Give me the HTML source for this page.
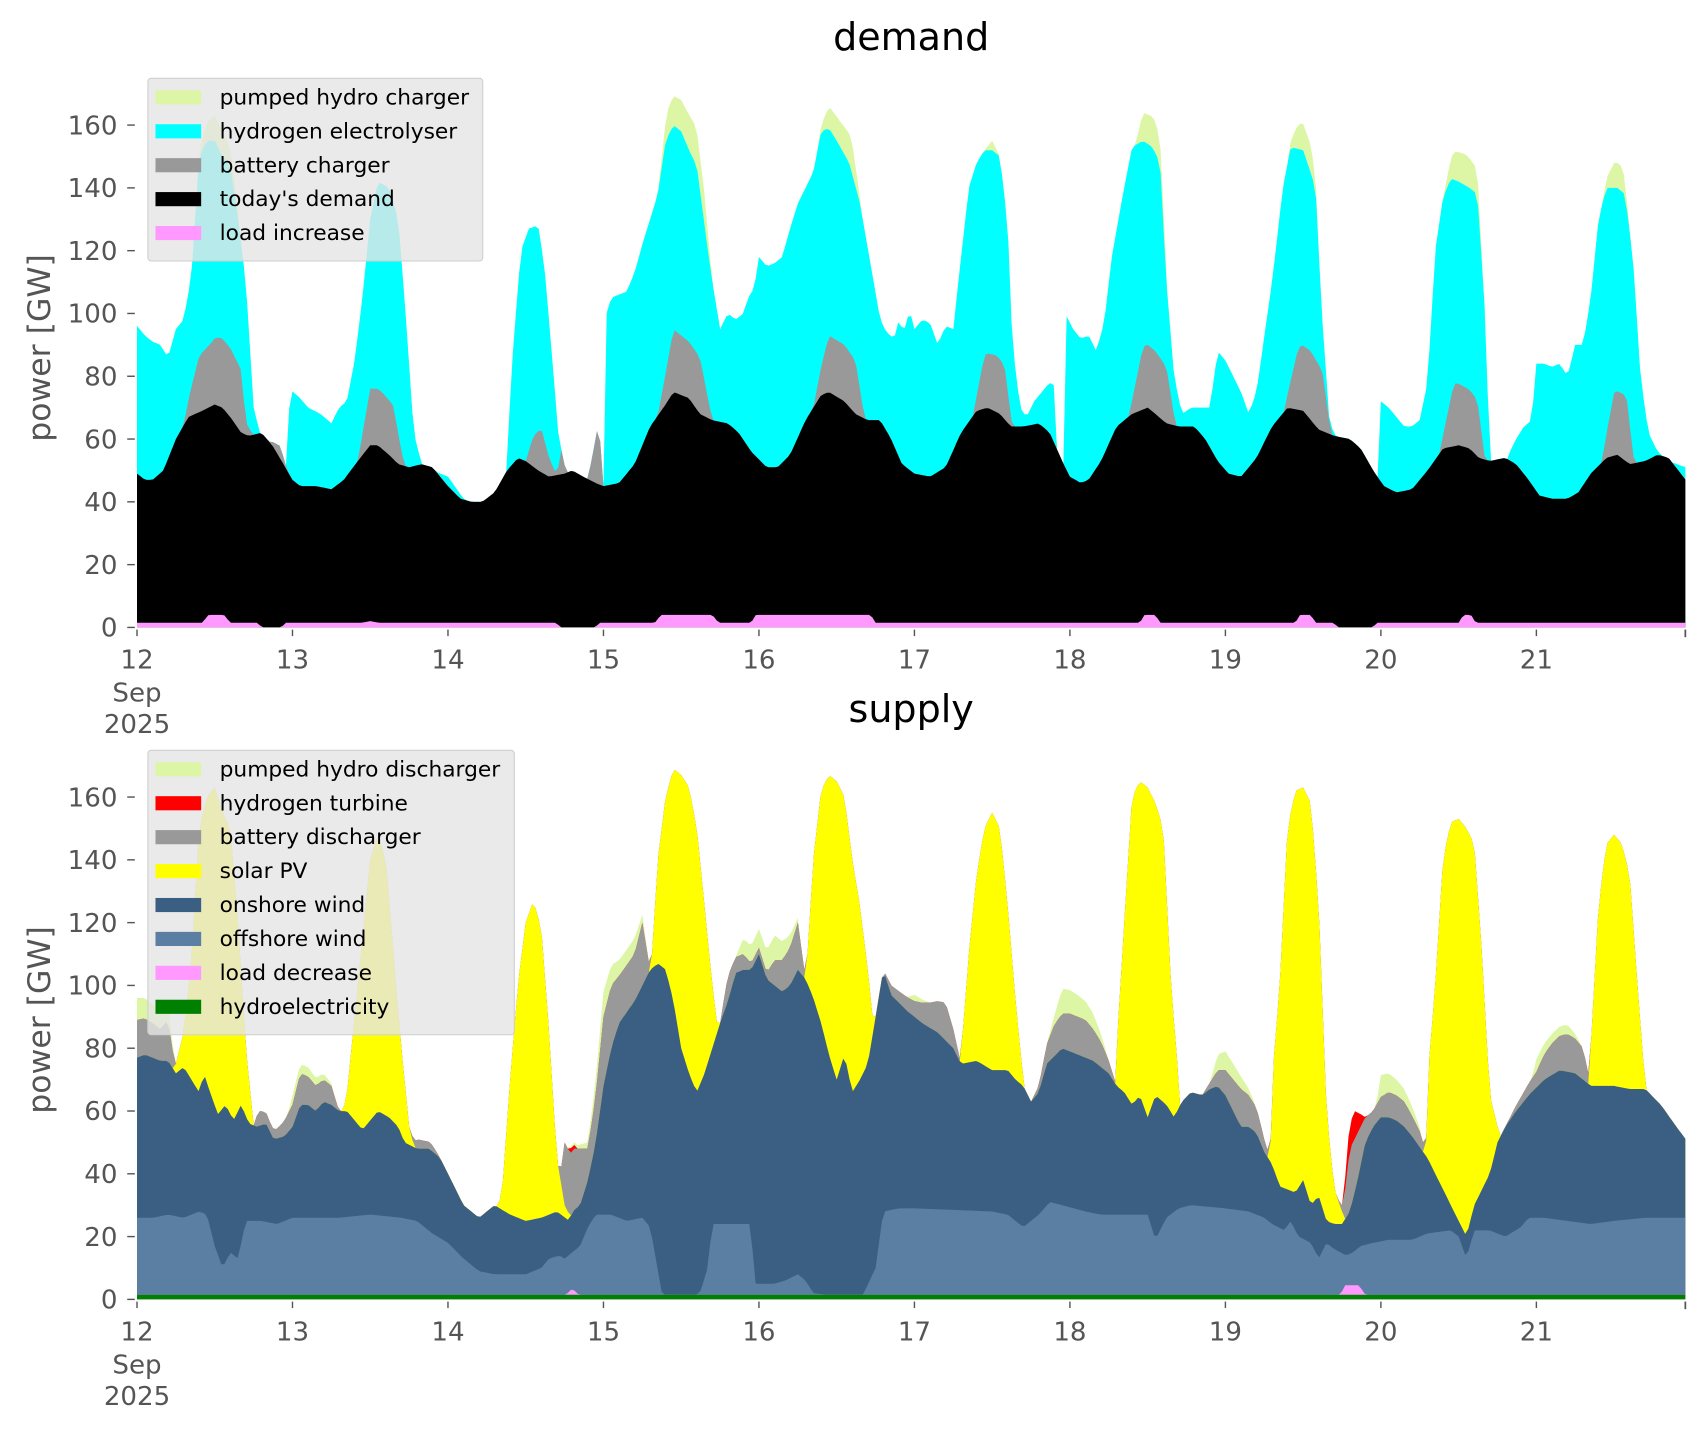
<!DOCTYPE html>
<html><head><meta charset="utf-8"><style>
html,body{margin:0;padding:0;background:#fff;}
svg{display:block;font-family:"DejaVu Sans","Liberation Sans",sans-serif;}
</style></head><body>
<svg id="s" width="1706" height="1431" viewBox="0 0 1569 1316" xmlns="http://www.w3.org/2000/svg">
<rect width="1569" height="1316" fill="#fff"/>
<g id="g1"></g><g id="g2"></g>
<text x="838" y="46" font-size="35" text-anchor="middle" fill="#000">demand</text>
<text x="838" y="664" font-size="35" text-anchor="middle" fill="#000">supply</text>
<text transform="translate(46,320) rotate(-90)" font-size="29" text-anchor="middle" fill="#555">power [GW]</text>
<text transform="translate(46,938) rotate(-90)" font-size="29" text-anchor="middle" fill="#555">power [GW]</text>
<g id="ax"></g>
<g id="leg"></g>
</svg>
<script>
function L(p,d,def){if(d<p[0][0]||d>p[p.length-1][0])return def;for(var i=1;i<p.length;i++){if(d<=p[i][0]){var a=p[i-1],b=p[i];return a[1]+(b[1]-a[1])*(d-a[0])/(b[0]-a[0]);}}return def;}
function P(s){var a=s.trim().split(/[\s,]+/),r=[];for(var i=0;i<a.length;i++){var q=a[i].split(':');r.push([+q[0],+q[1]]);}return r;}
var black=P("12.0:49 12.05:47 12.1:47 12.17:50 12.25:60 12.33:67 12.42:69 12.5:71 12.55:70 12.6:67 12.67:62 12.72:61 12.8:62 12.87:58 12.93:53 13.0:47 13.05:45 13.15:45 13.25:44 13.33:47 13.42:53 13.5:58 13.55:58 13.62:55 13.68:52 13.75:51 13.83:52 13.9:51 14.0:45 14.08:41 14.15:40 14.22:40 14.3:43 14.38:50 14.45:54 14.5:53 14.58:50 14.65:48 14.75:49 14.8:50 14.87:48 14.95:46 15.0:45 15.1:46 15.2:52 15.3:64 15.4:71 15.45:75 15.55:73 15.62:68 15.7:66 15.8:65 15.87:62 15.95:56 16.05:51 16.12:51 16.2:55 16.3:66 16.4:74 16.45:75 16.55:72 16.62:68 16.7:66 16.78:66 16.85:60 16.92:52 17.0:49 17.1:48 17.2:51 17.3:62 17.4:69 17.47:70 17.55:68 17.62:64 17.7:64 17.8:65 17.87:62 17.95:53 18.0:48 18.07:46 18.12:47 18.2:53 18.3:64 18.4:68 18.5:70 18.55:68 18.62:65 18.7:64 18.8:64 18.87:60 18.95:53 19.02:49 19.1:48 19.2:54 19.3:64 19.4:70 19.5:69 19.55:66 19.6:63 19.7:61 19.8:60 19.87:57 19.95:50 20.02:45 20.1:43 20.2:44 20.3:50 20.4:57 20.5:58 20.57:57 20.63:54 20.7:53 20.8:54 20.87:52 20.95:47 21.02:42 21.1:41 21.2:41 21.27:43 21.35:49 21.45:54 21.52:55 21.6:52 21.7:53 21.78:55 21.85:54 21.96:47");
var grayB=P("12.3:0 12.4:18 12.47:20 12.53:22 12.6:22 12.67:20 12.7:4 12.75:0 12.85:0 12.92:4 12.97:0 13.42:0 13.5:18 13.58:18 13.65:17 13.72:0 14.5:0 14.55:10 14.6:14 14.65:6 14.7:0 14.73:8 14.76:0 14.9:0 14.97:20 15.0:0 15.35:0 15.45:20 15.55:18 15.62:18 15.7:0 16.35:0 16.45:18 16.55:18 16.62:17 16.68:0 17.38:0 17.45:17 17.52:18 17.58:17 17.63:0 18.38:0 18.47:20 18.55:20 18.62:18 18.68:0 19.38:0 19.47:20 19.55:22 19.62:20 19.68:0 20.38:0 20.47:20 20.55:19 20.62:18 20.67:0 21.42:0 21.5:20 21.58:21 21.63:0");
var cyan=P("12.0:96 12.05:93 12.1:91 12.15:90 12.2:86 12.25:95 12.3:98 12.35:112 12.4:150 12.45:155 12.5:155 12.55:150 12.6:147 12.65:130 12.7:110 12.75:70 12.8:60 12.85:55 12.86:0 12.97:0 12.98:76 13.05:73 13.1:70 13.18:68 13.25:65 13.3:70 13.35:72 13.4:85 13.45:105 13.5:130 13.55:142 13.62:140 13.68:130 13.72:105 13.78:62 13.83:52 13.9:50 14.0:48 14.1:41 14.15:40 14.16:0 14.37:0 14.38:55 14.42:90 14.47:120 14.52:127 14.58:128 14.62:115 14.68:80 14.72:55 14.75:50 14.76:0 15.0:0 15.02:100 15.05:105 15.1:106 15.15:107 15.2:113 15.25:122 15.3:130 15.35:138 15.4:155 15.45:160 15.5:158 15.55:152 15.6:147 15.65:128 15.7:110 15.75:95 15.8:100 15.85:98 15.9:100 15.93:105 15.97:108 16.0:118 16.05:115 16.1:116 16.15:118 16.2:127 16.25:135 16.3:140 16.35:145 16.4:158 16.45:159 16.5:155 16.58:148 16.65:135 16.72:115 16.78:98 16.82:94 16.87:92 16.9:98 16.93:94 16.97:101 17.0:95 17.05:98 17.1:97 17.15:90 17.2:96 17.25:95 17.3:118 17.35:140 17.4:148 17.45:152 17.5:152 17.55:150 17.6:128 17.63:90 17.68:70 17.72:67 17.77:72 17.82:75 17.87:78 17.9:77 17.91:0 17.96:0 17.97:100 18.02:95 18.07:92 18.12:93 18.17:88 18.22:97 18.27:118 18.33:135 18.4:153 18.47:155 18.53:153 18.58:148 18.62:110 18.67:80 18.72:68 18.78:70 18.85:70 18.9:70 18.95:88 19.0:85 19.05:80 19.1:75 19.15:68 19.2:75 19.3:110 19.37:140 19.42:153 19.5:152 19.58:140 19.62:100 19.67:65 19.72:60 19.8:58 19.81:0 19.98:0 20.0:72 20.05:70 20.1:67 20.15:64 20.2:64 20.25:66 20.3:78 20.35:120 20.4:137 20.45:143 20.5:142 20.57:140 20.62:138 20.67:100 20.7:55 20.71:0 20.81:0 20.82:55 20.87:60 20.92:64 20.97:66 21.0:84 21.05:84 21.1:83 21.15:84 21.2:80 21.25:90 21.3:90 21.35:105 21.4:130 21.45:140 21.52:140 21.57:138 21.62:118 21.67:80 21.72:62 21.78:56 21.85:53 21.96:51");
var phc=P("12.38:0 12.45:6 12.5:8 12.55:8 12.62:5 12.67:0 15.35:0 15.42:9 15.5:10 15.58:12 15.65:10 15.7:0 16.38:0 16.45:7 16.52:8 16.6:10 16.66:0 17.45:0 17.5:3 17.55:0 18.42:0 18.47:9 18.55:10 18.6:6 18.63:0 19.4:0 19.47:8 19.55:9 19.6:0 20.4:0 20.47:9 20.55:10 20.62:8 20.66:0 21.42:0 21.5:8 21.55:8 21.6:0");
var pinkT=P("12.0:1.5 12.42:1.5 12.46:4 12.56:4 12.6:1.5 12.78:1.5 12.8:0 12.93:0 12.95:1.5 13.45:1.5 13.5:2 13.55:1.5 14.7:1.5 14.72:0 14.95:0 14.97:1.5 15.33:1.5 15.37:4 15.7:4 15.74:1.5 15.95:1.5 15.98:4 16.72:4 16.75:1.5 18.45:1.5 18.48:4 18.55:4 18.58:1.5 19.45:1.5 19.48:4 19.55:4 19.58:1.5 19.7:1.5 19.72:0 19.95:0 19.97:1.5 20.5:1.5 20.53:4 20.58:4 20.61:1.5 21.96:1.5");
var off=P("12.0:26 12.1:26 12.2:27 12.3:26 12.4:28 12.45:27 12.5:17 12.55:10 12.6:15 12.65:13 12.7:25 12.8:25 12.9:24 13.0:26 13.3:26 13.5:27 13.7:26 13.8:25 13.9:21 14.0:18 14.1:13 14.2:9 14.3:8 14.5:8 14.6:10 14.65:13 14.72:14 14.75:13 14.8:15 14.85:17 14.9:23 14.95:27 15.05:27 15.15:25 15.25:26 15.3:23 15.38:1 15.55:1 15.62:2 15.67:10 15.7:24 15.9:24 15.95:24 15.97:5 16.1:5 16.17:6 16.25:8 16.3:6 16.35:2 16.5:1 16.67:1.5 16.75:10 16.8:28 16.9:29 17.0:29 17.5:28 17.6:27 17.7:23 17.8:27 17.87:31 17.95:30 18.1:28 18.2:27 18.45:27 18.5:27 18.55:19 18.62:26 18.7:29 18.78:30 19.0:29 19.15:28 19.25:26 19.3:24 19.38:22 19.42:25 19.47:20 19.55:18 19.6:13 19.65:18 19.7:16 19.78:14 19.82:15 19.87:17 19.95:18 20.05:19 20.2:19 20.3:21 20.45:22 20.5:20 20.55:13 20.6:22 20.7:22 20.8:20 20.9:23 20.95:26 21.05:26 21.2:25 21.35:24 21.5:25 21.7:26 21.96:26");
var on=P("12.0:77 12.05:78 12.1:77 12.15:76 12.2:76 12.25:72 12.3:74 12.35:70 12.4:66 12.43:72 12.47:66 12.52:59 12.57:62 12.62:57 12.67:62 12.72:56 12.77:55 12.83:56 12.88:51 12.95:52 13.0:55 13.05:62 13.1:62 13.15:60 13.2:63 13.25:62 13.3:60 13.35:60 13.4:57 13.45:54 13.5:57 13.55:60 13.62:58 13.68:55 13.72:50 13.8:48 13.88:48 13.95:45 14.0:40 14.05:35 14.1:30 14.15:28 14.2:26 14.3:30 14.4:27 14.5:25 14.6:26 14.7:28 14.78:25 14.8:28 14.85:30 14.9:38 14.95:50 15.0:68 15.05:80 15.1:88 15.2:95 15.3:105 15.35:107 15.4:105 15.45:95 15.5:80 15.55:72 15.6:66 15.65:72 15.7:80 15.75:88 15.8:95 15.85:104 15.9:105 15.95:105 16.0:110 16.05:102 16.1:100 16.15:98 16.2:100 16.25:105 16.3:102 16.35:96 16.4:88 16.45:78 16.5:70 16.55:78 16.6:66 16.65:70 16.7:75 16.75:90 16.8:105 16.85:97 16.95:92 17.05:88 17.15:85 17.25:80 17.3:75 17.4:76 17.5:73 17.6:73 17.65:70 17.7:68 17.75:63 17.8:66 17.85:75 17.95:80 18.05:78 18.15:76 18.25:72 18.3:68 18.35:66 18.4:62 18.45:65 18.5:58 18.55:65 18.62:62 18.67:58 18.72:63 18.78:66 18.85:65 18.9:67 18.95:68 19.0:65 19.05:60 19.1:55 19.15:55 19.2:53 19.25:47 19.3:43 19.35:36 19.4:35 19.45:34 19.5:38 19.55:30 19.6:33 19.65:25 19.7:24 19.75:24 19.8:28 19.85:38 19.9:50 19.95:55 20.0:58 20.05:58 20.1:57 20.15:55 20.2:52 20.3:45 20.4:35 20.45:30 20.5:25 20.55:20 20.6:30 20.65:35 20.7:40 20.75:50 20.8:55 20.87:60 20.95:65 21.05:70 21.15:73 21.25:72 21.35:68 21.5:68 21.6:67 21.7:67 21.8:62 21.9:55 21.96:51");
var sol=P("12.22:0 12.25:75 12.3:85 12.35:108 12.4:150 12.45:160 12.5:163 12.55:155 12.6:150 12.65:120 12.7:80 12.75:55 12.8:50 12.83:0 13.27:0 13.3:55 13.35:65 13.4:90 13.45:115 13.5:140 13.55:148 13.6:140 13.65:110 13.7:80 13.75:55 13.8:45 13.83:0 14.27:0 14.3:25 14.35:35 14.4:70 14.45:100 14.5:120 14.55:127 14.6:118 14.65:85 14.7:45 14.75:30 14.8:25 14.83:0 15.27:0 15.3:100 15.35:140 15.4:160 15.45:169 15.5:167 15.55:163 15.6:150 15.65:125 15.7:100 15.75:80 15.78:0 16.27:0 16.3:100 16.35:140 16.4:162 16.45:167 16.5:165 16.55:160 16.6:140 16.65:125 16.7:105 16.75:80 16.78:0 17.27:0 17.3:78 17.35:110 17.4:135 17.45:150 17.5:155 17.55:150 17.6:125 17.65:95 17.7:70 17.73:0 18.27:0 18.3:80 18.35:120 18.4:160 18.45:165 18.5:163 18.55:158 18.6:150 18.65:100 18.7:70 18.73:0 19.27:0 19.3:70 19.35:100 19.4:150 19.45:162 19.5:163 19.55:158 19.6:125 19.65:60 19.7:35 19.75:28 19.78:0 20.27:0 20.3:70 20.35:100 20.4:140 20.45:152 20.5:153 20.55:150 20.6:145 20.65:110 20.7:65 20.75:55 20.78:0 21.32:0 21.35:80 21.4:125 21.45:145 21.5:148 21.55:145 21.6:135 21.65:100 21.7:68 21.75:60 21.78:0");
var grayS=P("12.0:12 12.1:11 12.15:10 12.2:13 12.25:0 12.75:0 12.78:5 12.85:3 12.9:3 12.95:5 13.0:7 13.05:10 13.15:8 13.25:6 13.3:0 13.75:0 13.8:3 13.9:2 13.95:0 14.72:0 14.75:20 14.8:20 14.85:18 14.9:10 14.95:15 15.0:22 15.05:20 15.1:15 15.15:15 15.2:15 15.25:20 15.3:0 15.75:0 15.8:8 15.85:5 15.9:5 15.95:2 16.05:2 16.1:8 16.15:10 16.2:12 16.25:15 16.3:0 16.8:0 16.85:3 17.0:5 17.1:8 17.2:12 17.3:0 17.75:0 17.8:2 17.9:10 18.0:12 18.1:12 18.2:8 18.3:0 18.85:0 18.9:2 19.0:8 19.1:12 19.2:8 19.3:0 19.72:0 19.75:2 19.8:20 19.85:15 19.9:8 19.95:5 20.05:8 20.15:8 20.25:5 20.3:0 20.8:0 21.0:5 21.05:8 21.1:10 21.2:12 21.3:10 21.35:0");
var redS=P("14.77:0 14.8:2 14.83:0 19.76:0 19.78:7 19.83:9 19.87:4 19.9:0");
var grnS=P("12.0:7 12.1:6 12.2:5 12.25:0 12.97:0 13.0:3 13.1:3 13.2:2 13.28:0 14.75:0 14.9:2 15.0:8 15.1:5 15.2:5 15.3:0 15.85:0 15.9:5 16.0:6 16.1:8 16.2:4 16.28:0 16.95:0 17.0:2 17.1:0 17.85:0 17.9:3 17.95:8 18.05:7 18.15:5 18.25:0 18.9:0 18.95:5 19.0:6 19.1:4 19.2:0 19.97:0 20.0:7 20.1:5 20.2:3 20.28:0 20.97:0 21.0:4 21.1:3 21.2:3 21.3:0");
var pinkB=P("14.76:0 14.8:2 14.84:0 19.74:0 19.77:3 19.86:3 19.9:0");
var D=[];for(var d=12;d<=21.9584;d+=1/48)D.push(d);
function X(d){return 126+(d-12)*143;}
function area(g,vals,base,col){var s="M"+X(D[0]).toFixed(1)+","+base;for(var i=0;i<D.length;i++)s+="L"+X(D[i]).toFixed(1)+","+(base-vals[i]*2.8875).toFixed(1);s+="L"+X(D[D.length-1]).toFixed(1)+","+base+"Z";g.innerHTML+='<path d="'+s+'" fill="'+col+'"/>';}
var g1=document.getElementById('g1'),g2=document.getElementById('g2');
var bk=[],gr=[],cy=[],ph=[],pk=[];
D.forEach(function(d){var b=L(black,d,47),g=b+L(grayB,d,0),c=Math.max(g,L(cyan,d,0)),p=c+L(phc,d,0);bk.push(b);gr.push(g);cy.push(c);ph.push(p);pk.push(L(pinkT,d,1.5));});
area(g1,ph,577,'#dcf6a6');area(g1,cy,577,'#00ffff');area(g1,gr,577,'#999999');area(g1,bk,577,'#000000');area(g1,pk,577,'#ff99ff');
var hy=[],pb=[],of=[],onw=[],so=[],gs=[],rs=[],gn=[];
D.forEach(function(d){var h=1.5,p=h+L(pinkB,d,0),o=Math.max(p,L(off,d,26)),n=Math.max(o,L(on,d,50)),s=Math.max(n,L(sol,d,0)),g=s+L(grayS,d,0),r=g+L(redS,d,0),q=r+L(grnS,d,0);hy.push(h);pb.push(p);of.push(o);onw.push(n);so.push(s);gs.push(g);rs.push(r);gn.push(q);});
area(g2,gn,1195,'#dcf6a6');area(g2,rs,1195,'#ff0000');area(g2,gs,1195,'#999999');area(g2,so,1195,'#ffff00');area(g2,onw,1195,'#3a5f82');area(g2,of,1195,'#5a7fa3');area(g2,pb,1195,'#ff99ff');area(g2,hy,1195,'#008000');
var ax=document.getElementById('ax'),h="";
[577,1195].forEach(function(b,k){for(var v=0;v<=160;v+=20){var y=b-v*2.8875;h+='<line x1="117" x2="124" y1="'+y+'" y2="'+y+'" stroke="#555" stroke-width="1.3"/><text x="108" y="'+(y+8.5)+'" font-size="24" text-anchor="end" fill="#555">'+v+'</text>';}
for(var d=12;d<=21;d++){var x=X(d);h+='<line x1="'+x+'" x2="'+x+'" y1="'+(b+2)+'" y2="'+(b+8)+'" stroke="#555" stroke-width="1.3"/><text x="'+x+'" y="'+(b+38)+'" font-size="24" text-anchor="middle" fill="#555">'+d+'</text>';}
h+='<line x1="1550" x2="1550" y1="'+(b+2)+'" y2="'+(b+9)+'" stroke="#555" stroke-width="1.6"/>';
h+='<text x="126" y="'+(b+68)+'" font-size="24" text-anchor="middle" fill="#555">Sep</text><text x="126" y="'+(b+97)+'" font-size="24" text-anchor="middle" fill="#555">2025</text>';});
ax.innerHTML=h;
function legend(x,y,w,items){var hh=items.length*31.2+12,s='<rect x="'+x+'" y="'+y+'" width="'+w+'" height="'+hh+'" rx="3" fill="rgba(229,229,229,0.8)" stroke="#cfcfcf"/>';items.forEach(function(it,i){var cy=y+17+i*31.2;s+='<rect x="'+(x+7)+'" y="'+(cy-6)+'" width="42" height="13" fill="'+it[1]+'"/><text x="'+(x+66)+'" y="'+(cy+7)+'" font-size="20" fill="#000">'+it[0]+'</text>';});return s;}
document.getElementById('leg').innerHTML=legend(136,72,308,[["pumped hydro charger","#dcf6a6"],["hydrogen electrolyser","#00ffff"],["battery charger","#999999"],["today's demand","#000"],["load increase","#ff99ff"]])+legend(136,690,337,[["pumped hydro discharger","#dcf6a6"],["hydrogen turbine","#ff0000"],["battery discharger","#999999"],["solar PV","#ffff00"],["onshore wind","#3a5f82"],["offshore wind","#5a7fa3"],["load decrease","#ff99ff"],["hydroelectricity","#008000"]]);
</script>
</body></html>
